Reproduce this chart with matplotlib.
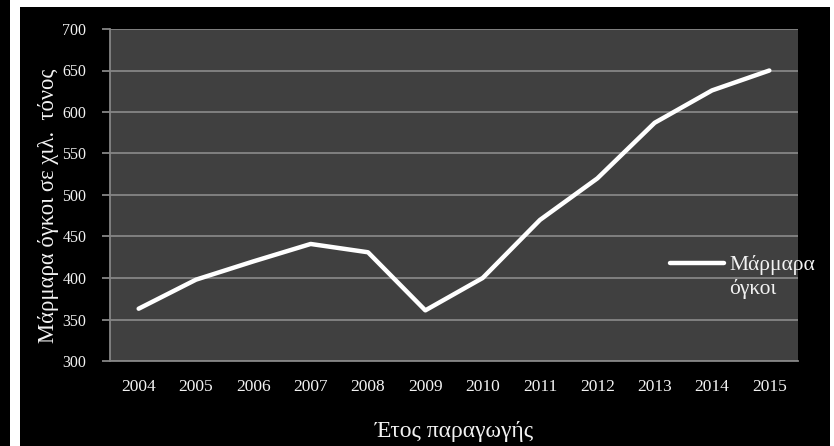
import matplotlib
matplotlib.use('Agg')
import matplotlib.pyplot as plt
from matplotlib.patches import Rectangle

# marble block production, thousand tonnes per year
years = ['2004', '2005', '2006', '2007', '2008', '2009',
         '2010', '2011', '2012', '2013', '2014', '2015']
marble_blocks = [363, 398, 420, 441, 431, 361, 400, 470, 520, 587, 626, 650]
y_ticks = [300, 350, 400, 450, 500, 550, 600, 650, 700]

SERIF = ['Liberation Serif', 'DejaVu Serif']
FG = '#f2f2f2'
GRID = '#858585'

W, H = 834, 446
fig = plt.figure(figsize=(W / 100, H / 100), dpi=100)
fig.patch.set_facecolor('white')

# black frame around the chart, with white strips on the edges
fig.add_artist(Rectangle((0, 0), 10 / W, 1, transform=fig.transFigure,
                         facecolor='black', edgecolor='none', zorder=-5))
fig.add_artist(Rectangle((20 / W, 0), 810 / W, 1 - 7 / H, transform=fig.transFigure,
                         facecolor='black', edgecolor='none', zorder=-5))

ax = fig.add_axes([110 / W, 1 - 361 / H, (798 - 110) / W, (361 - 29) / H])
ax.set_zorder(1)
ax.set_facecolor('#404040')

x = list(range(len(years)))
ax.plot(x, marble_blocks, color='white', lw=3.2, solid_capstyle='round',
        solid_joinstyle='round', label='Μάρμαρα\nόγκοι', zorder=3)

ax.set_xlim(-0.5, len(years) - 0.5)
ax.set_ylim(300, 700)
ax.set_yticks(y_ticks)
ax.set_xticks(x)
ax.set_xticklabels(years)
ax.yaxis.grid(True, color=GRID, lw=1.3)
ax.set_axisbelow(True)

for s in ['top', 'right']:
    ax.spines[s].set_visible(False)
ax.spines['left'].set_color(GRID)
ax.spines['bottom'].set_color(GRID)
ax.spines['left'].set_linewidth(1.3)
ax.spines['bottom'].set_linewidth(1.3)

ax.tick_params(axis='y', colors=GRID, length=6, width=1.3, pad=11, labelcolor=FG)
ax.tick_params(axis='x', length=0, pad=13, labelcolor=FG)
for lab in ax.get_xticklabels():
    lab.set_family(SERIF)
    lab.set_fontsize(12.5)
for lab in ax.get_yticklabels():
    lab.set_family(SERIF)
    lab.set_fontsize(11.5)

ax.set_xlabel('Έτος παραγωγής', family=SERIF, fontsize=17, color=FG, labelpad=19)
ax.set_ylabel('Μάρμαρα όγκοι σε χιλ.  τόνος', family=SERIF, fontsize=16.3, color=FG)
ax.yaxis.set_label_coords(-0.074, 0.467)

leg = ax.legend(loc='center left', bbox_to_anchor=(659 / W, 1 - 277 / H),
                bbox_transform=fig.transFigure, frameon=False,
                prop={'family': SERIF, 'size': 15.5}, handlelength=2.5,
                handletextpad=0.25, borderpad=0)
for t in leg.get_texts():
    t.set_color(FG)
    t.set_linespacing(1.3)
# sit the legend line beside the first line of the two-line label
for ln in leg.get_lines():
    yd = ln.get_ydata()
    ln.set_ydata([v + 10 for v in yd])

fig.savefig('out.png', dpi=100, facecolor=fig.get_facecolor())
